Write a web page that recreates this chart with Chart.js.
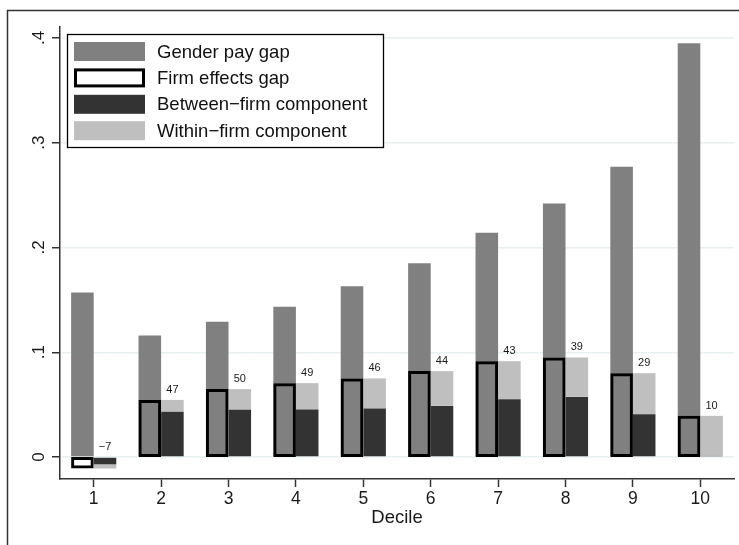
<!DOCTYPE html>
<html>
<head>
<meta charset="utf-8">
<script src="https://cdn.jsdelivr.net/npm/chart.js@4.4.1/dist/chart.umd.min.js"></script>
<style>
  html, body { margin: 0; padding: 0; background: #fff; }
  #wrap { position: relative; width: 739px; height: 545px; }
</style>
</head>
<body>
<div id="wrap"><canvas id="chart" width="739" height="545"></canvas></div>
<script>
var deciles = ['1', '2', '3', '4', '5', '6', '7', '8', '9', '10'];
var genderGap = [0.157, 0.116, 0.129, 0.1435, 0.163, 0.185, 0.214, 0.242, 0.277, 0.395];
var firmGap = [-0.011, 0.0545, 0.0648, 0.0705, 0.075, 0.082, 0.0915, 0.095, 0.080, 0.0393];
var betweenFirm = [-0.007, 0.0433, 0.045, 0.0453, 0.0463, 0.0488, 0.0552, 0.0574, 0.0408, 0.001];
var withinFirm = [-0.004, 0.0112, 0.0198, 0.0252, 0.0287, 0.0332, 0.0363, 0.0376, 0.0392, 0.0383];
var shareLabels = ['\u22127', '47', '50', '49', '46', '44', '43', '39', '29', '10'];
var yTickValues = [0, 0.1, 0.2, 0.3, 0.4];
var yTickLabels = ['0', '.1', '.2', '.3', '.4'];

var FONT = '"Liberation Sans", Arial, Helvetica, sans-serif';
var Y_MIN = -0.021, Y_MAX = 0.4105;

var legendItems = [
    { text: 'Gender pay gap', fill: '#808080', border: null },
    { text: 'Firm effects gap', fill: '#ffffff', border: '#000000' },
    { text: 'Between\u2212firm component', fill: '#333333', border: null },
    { text: 'Within\u2212firm component', fill: '#bfbfbf', border: null }
];

// graph region outline, like Stata draws it
var framePlugin = {
    id: 'frame',
    beforeDraw: function(chart) {
        var ctx = chart.ctx;
        ctx.save();
        ctx.strokeStyle = '#333333';
        ctx.lineWidth = 1.5;
        ctx.beginPath();
        ctx.moveTo(7.5, 545);
        ctx.lineTo(7.5, 10.5);
        ctx.lineTo(739, 10.5);
        ctx.stroke();
        ctx.restore();
    }
};

var labelPlugin = {
    id: 'extras',
    afterDraw: function(chart) {
        var ctx = chart.ctx;
        var yScale = chart.scales.y;

        // share labels above the stacked bars
        var mb = chart.getDatasetMeta(2), mw = chart.getDatasetMeta(3);
        ctx.save();
        ctx.fillStyle = '#1a1a1a';
        ctx.font = '11px ' + FONT;
        ctx.textAlign = 'center';
        ctx.textBaseline = 'alphabetic';
        for (var i = 0; i < deciles.length; i++) {
            var b = mb.data[i], w = mw.data[i];
            var top = Math.min(b.y, b.base, w.y, w.base, yScale.getPixelForValue(0));
            ctx.fillText(shareLabels[i], w.x, top - 7);
        }
        ctx.restore();

        // rotated y tick labels
        ctx.save();
        ctx.fillStyle = '#1a1a1a';
        ctx.font = '17px ' + FONT;
        ctx.textAlign = 'center';
        ctx.textBaseline = 'alphabetic';
        yTickValues.forEach(function(v, k) {
            var py = yScale.getPixelForValue(v);
            ctx.save();
            ctx.translate(43.5, py);
            ctx.rotate(-Math.PI / 2);
            ctx.fillText(yTickLabels[k], 0, 0);
            ctx.restore();
        });
        ctx.restore();

        // legend box inside the plot
        var lx = 67, ly = 34, lw = 316, lh = 113;
        ctx.save();
        ctx.fillStyle = '#ffffff';
        ctx.fillRect(lx, ly, lw, lh);
        ctx.strokeStyle = '#000000';
        ctx.lineWidth = 1.3;
        ctx.strokeRect(lx + 0.5, ly + 0.5, lw, lh);
        ctx.font = '18.5px ' + FONT;
        ctx.textAlign = 'left';
        ctx.textBaseline = 'middle';
        legendItems.forEach(function(item, k) {
            var cy = 51.5 + k * 26.4;
            ctx.fillStyle = item.fill;
            ctx.fillRect(74, cy - 9.5, 71, 19);
            if (item.border) {
                ctx.strokeStyle = item.border;
                ctx.lineWidth = 3;
                ctx.strokeRect(75.5, cy - 8, 68, 16);
            }
            ctx.fillStyle = '#111111';
            ctx.fillText(item.text, 157, cy + 1);
        });
        ctx.restore();
    }
};

new Chart(document.getElementById('chart'), {
    type: 'bar',
    data: {
        labels: deciles,
        datasets: [
            {
                label: 'Firm effects gap',
                data: firmGap,
                yAxisID: 'y2',
                stack: 'left',
                backgroundColor: 'rgba(0,0,0,0)',
                borderColor: '#000000',
                borderWidth: 3,
                borderSkipped: false
            },
            {
                label: 'Gender pay gap',
                data: genderGap,
                yAxisID: 'y',
                stack: 'left',
                backgroundColor: '#808080',
                borderWidth: 0
            },
            {
                label: 'Between-firm component',
                data: betweenFirm,
                yAxisID: 'y',
                stack: 'right',
                backgroundColor: '#333333',
                borderWidth: 0
            },
            {
                label: 'Within-firm component',
                data: withinFirm,
                yAxisID: 'y',
                stack: 'right',
                backgroundColor: '#bfbfbf',
                borderWidth: 0
            }
        ]
    },
    options: {
        responsive: false,
        animation: false,
        devicePixelRatio: 1,
        categoryPercentage: 0.67,
        barPercentage: 1.0,
        layout: { padding: { top: 27, right: 5, left: 0, bottom: 0 } },
        plugins: {
            legend: { display: false },
            tooltip: { enabled: false },
            title: { display: false }
        },
        scales: {
            x: {
                stacked: true,
                offset: true,
                grid: {
                    offset: false,
                    drawOnChartArea: false,
                    drawTicks: true,
                    tickLength: 8,
                    tickColor: '#333333',
                    tickWidth: 1.5
                },
                border: { color: '#333333', width: 1.5 },
                ticks: {
                    color: '#1a1a1a',
                    font: { family: FONT, size: 17.5 },
                    padding: 2,
                    maxRotation: 0,
                    autoSkip: false
                },
                title: {
                    display: true,
                    text: 'Decile',
                    color: '#1a1a1a',
                    font: { family: FONT, size: 18.5 },
                    padding: { top: 0, bottom: 16 }
                },
                afterFit: function(scale) { scale.height = 66; }
            },
            y: {
                stacked: true,
                min: Y_MIN,
                max: Y_MAX,
                afterBuildTicks: function(scale) {
                    scale.ticks = yTickValues.map(function(v) { return { value: v }; });
                },
                grid: {
                    color: '#e9f0f2',
                    lineWidth: 1.5,
                    drawTicks: true,
                    tickLength: 8,
                    tickColor: '#333333',
                    tickWidth: 1.5
                },
                border: { color: '#333333', width: 1.5 },
                ticks: { display: false },
                afterFit: function(scale) { scale.width = 60; }
            },
            y2: {
                display: false,
                stacked: true,
                min: Y_MIN,
                max: Y_MAX
            }
        }
    },
    plugins: [framePlugin, labelPlugin]
});
</script>
</body>
</html>
